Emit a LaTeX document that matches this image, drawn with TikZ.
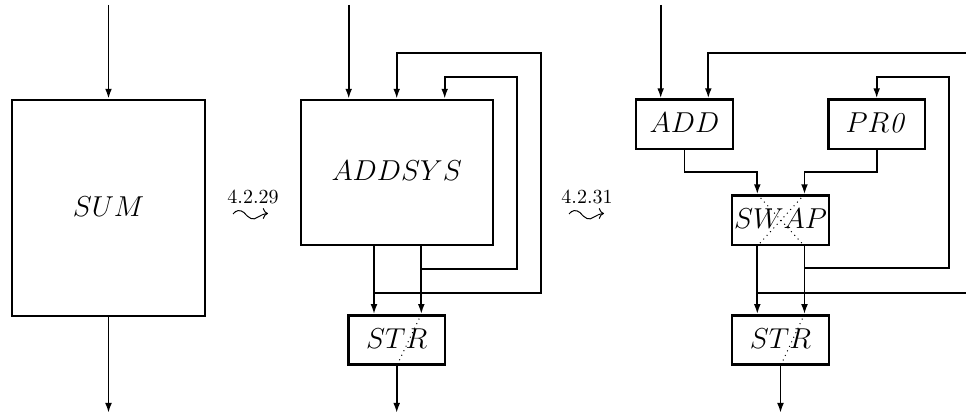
\documentclass[tikz,border=0pt]{standalone}
\usetikzlibrary{calc,arrows.meta}
\begin{document}
\begin{tikzpicture}[x=0.5pt,y=-0.5pt,
  blk/.style={draw,line width=1.2pt,minimum width=48.25pt,minimum height=24.65pt,inner sep=0pt,text depth=1.5pt,font=\fontsize{15}{18}\selectfont},
  wire/.style={line width=0.9pt},
  arr/.style={wire,-{Latex[length=5pt,width=3.4pt]}},
  cross/.style={dotted,line width=0.5pt},
  lbl/.style={inner sep=0pt,font=\fontsize{10}{12}\selectfont},
  sqarrow/.pic={\draw[line width=0.5pt,-{Computer Modern Rightarrow[length=2.6pt,width=5.4pt]}]
      (0,0) .. controls (3,-4) and (7,-4.5) .. (11,-1.5)
      .. controls (16,4.5) and (20,7) .. (25,3)
      .. controls (29,1) and (31,-0.5) .. (35,-0.5);}]
\useasboundingbox (0,0) rectangle (966,416);

% ---------- panel 1 ----------
\node[blk,minimum width=96.5pt,minimum height=108pt] (sum) at (108.5,208) {$SUM$};
\coordinate (sin) at (108.5,5);
\coordinate (sout) at (108.5,413);
\draw[arr] (sin) -- (sum.north);
\draw[arr] (sum.south) -- (sout);

\node[lbl] (l1) at (253,197) {$4.2.29$};
\coordinate (w1) at (233,214);
\pic at (w1) {sqarrow};

% ---------- panel 2 ----------
\node[blk,minimum width=96pt,minimum height=72.5pt] (addsys) at (396.7,172.5) {$ADDSYS$};
\node[blk] (stra) at (396.7,340) {$STR$};
\coordinate (ain) at (348.7,5);
\coordinate (aout) at (396.7,413);
\coordinate (o1) at (374,292.7);
\coordinate (o2) at (421.3,268.7);
\draw[arr] (ain) -- (ain |- addsys.north);
% outer loop
\draw[arr] (o1) -- (540.7,292.7) -- (540.7,52.7) -- (396.7,52.7) -- (addsys.north);
% inner loop
\draw[arr] (o2) -- (516.7,268.7) -- (516.7,76.7) -- (444.7,76.7) -- ($(addsys.north)+(48,0)$);
% outputs
\draw[arr] ($(addsys.south)+(-22.7,0)$) -- ($(stra.north)+(-22.7,0)$);
\draw[arr] ($(addsys.south)+(24.6,0)$) -- ($(stra.north)+(24.6,0)$);
\draw[cross] ($(stra.north)+(24.6,0)$) -- (stra.south);
\draw[arr] (stra.south) -- (aout);

\node[lbl] (l2) at (587,197) {$4.2.31$};
\coordinate (w2) at (569,214);
\pic at (w2) {sqarrow};

% ---------- panel 3 ----------
\node[blk] (add) at (684.5,124.2) {$ADD$};
\node[blk] (pr) at (876.7,124.2) {$PR\mathit{0}$};
\node[blk] (swap) at (780.5,220.2) {$SWAP$};
\node[blk] (strb) at (780.5,340) {$STR$};
\coordinate (bin) at (660.7,5);
\coordinate (bout) at (780.5,413);
\coordinate (p1) at (757.3,292.7);
\coordinate (p2) at (804.5,268.3);
\coordinate (re1) at (966,292.7);
\coordinate (re2) at (966,52.7);
\coordinate (cl) at (757.3,0);
\coordinate (cr) at (804.5,0);
\coordinate (ca) at (708.3,0);
\draw[arr] (bin) -- (bin |- add.north);
% outer loop (leaves picture)
\draw[wire] (p1) -- (re1);
\draw[arr] (re2) -- (708.3,52.7) -- (ca |- add.north);
% inner loop
\draw[arr] (p2) -- (948.7,268.3) -- (948.7,76.7) -- (876.7,76.7) -- (pr.north);
% into swap
\draw[arr] (add.south) -- (684.5,172.3) -- (757.3,172.3) -- (cl |- swap.north);
\draw[arr] (pr.south) -- (876.7,172.3) -- (804.5,172.3) -- (cr |- swap.north);
\draw[cross] (cl |- swap.north) -- (cr |- swap.south);
\draw[cross] (cr |- swap.north) -- (cl |- swap.south);
% swap to str
\draw[arr] (cl |- swap.south) -- (cl |- strb.north);
\draw[arr] (cr |- swap.south) -- (cr |- strb.north);
\draw[cross] (cr |- strb.north) -- (strb.south);
\draw[arr] (strb.south) -- (bout);
\end{tikzpicture}
\end{document}
